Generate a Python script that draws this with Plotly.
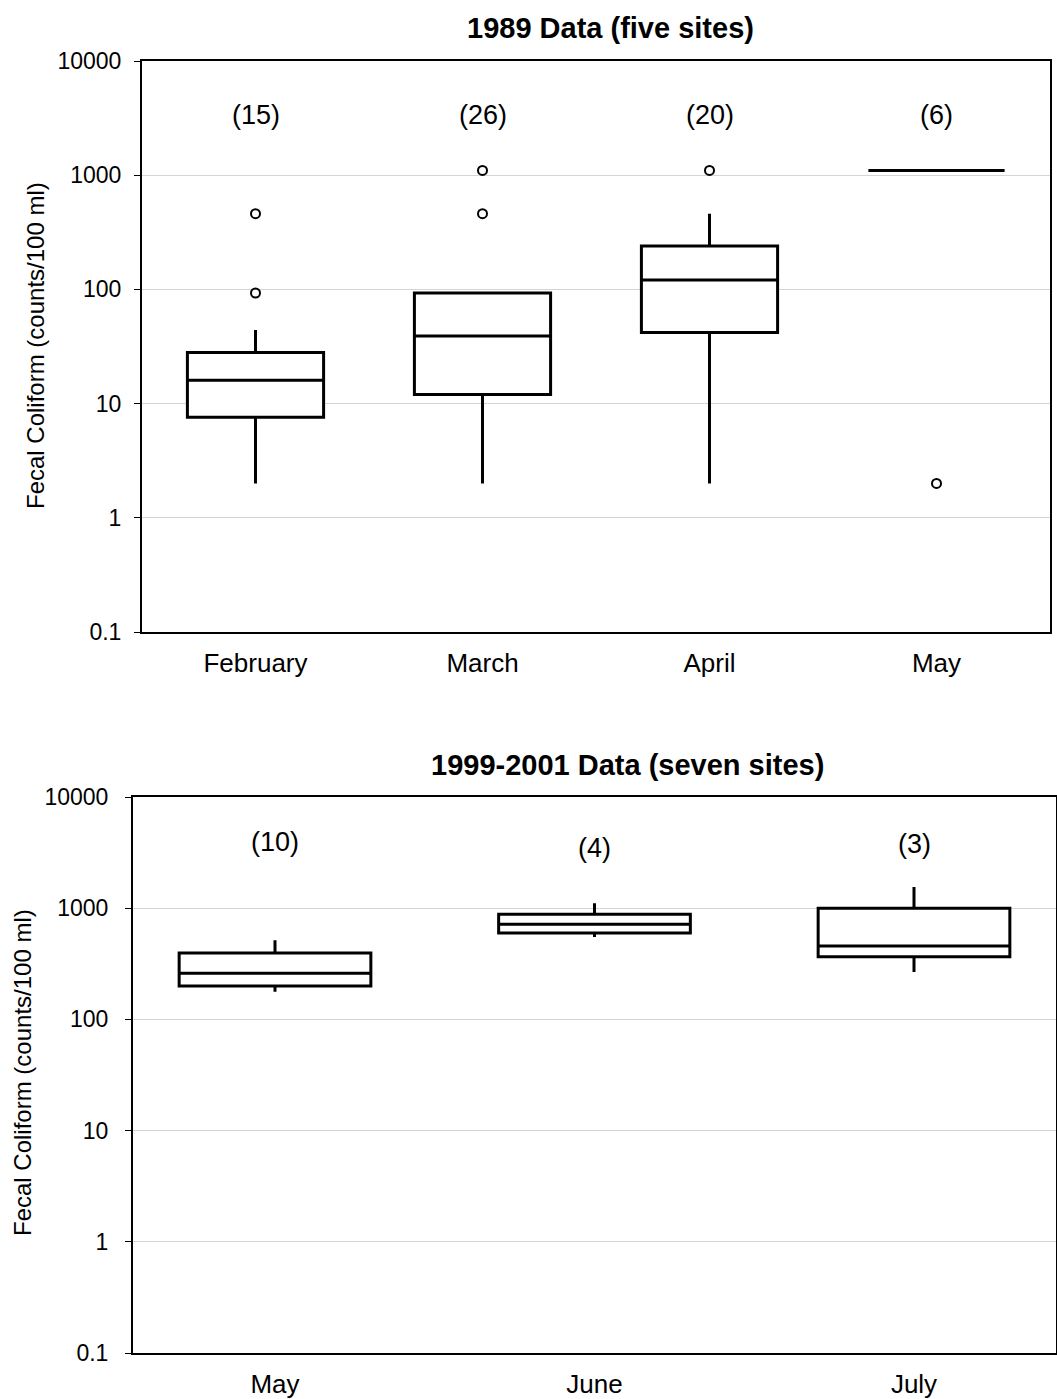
import plotly.graph_objects as go

# ---- data: 1989 (five sites) ----
cats_89 = ["February", "March", "April", "May"]
q1_89 = [7.6, 12, 42, 1100]
med_89 = [16, 39, 121, 1100]
q3_89 = [28, 93, 240, 1100]
lo_89 = [2, 2, 2, 1100]
hi_89 = [44, 93, 460, 1100]
n_89 = ["(15)", "(26)", "(20)", "(6)"]
out_x_89 = ["February", "February", "March", "March", "April", "May"]
out_y_89 = [93, 460, 460, 1100, 1100, 2]

# ---- data: 1999-2001 (seven sites) ----
cats_99 = ["May", "June", "July"]
q1_99 = [200, 597, 366]
med_99 = [260, 719, 457]
q3_99 = [395, 883, 1000]
lo_99 = [177, 550, 267]
hi_99 = [516, 1110, 1550]
n_99 = ["(10)", "(4)", "(3)"]

ytick_vals = [0.1, 1, 10, 100, 1000, 10000]
ytick_text = ["0.1", "1", "10", "100", "1000", "10000"]

FONT = "Liberation Sans, Arial, sans-serif"
W, H = 1057, 1399

fig = go.Figure()

box_style = dict(line=dict(color="black", width=3), fillcolor="white",
                 width=0.6, whiskerwidth=0, boxpoints=False, showlegend=False,
                 hoverinfo="skip")

fig.add_trace(go.Box(x=cats_89, q1=q1_89, median=med_89, q3=q3_89,
                     lowerfence=lo_89, upperfence=hi_89,
                     xaxis="x", yaxis="y", **box_style))
fig.add_trace(go.Scatter(x=out_x_89, y=out_y_89, mode="markers",
                         marker=dict(symbol="circle-open", size=9, color="black",
                                     line=dict(width=2, color="black")),
                         showlegend=False, hoverinfo="skip", xaxis="x", yaxis="y"))
fig.add_trace(go.Box(x=cats_99, q1=q1_99, median=med_99, q3=q3_99,
                     lowerfence=lo_99, upperfence=hi_99,
                     xaxis="x2", yaxis="y2", **box_style))

def px_x(v):
    return v / W

def px_y(v):
    return 1 - v / H

def yax(standoff):
    return dict(type="log", range=[-1, 4], tickvals=ytick_vals, ticktext=ytick_text,
                showgrid=True, gridcolor="#d4d4d4", gridwidth=1,
                showline=True, linecolor="black", linewidth=2, mirror=True,
                ticks="outside", ticklen=6, tickcolor="black", tickwidth=1,
                ticklabelstandoff=standoff, automargin=False,
                tickfont=dict(family=FONT, size=23, color="black"), zeroline=False)

xax = dict(type="category", showgrid=False, showline=True, linecolor="black",
           linewidth=2, mirror=True, ticks="", ticklen=0, automargin=False,
           ticklabelstandoff=7, zeroline=False,
           tickfont=dict(family=FONT, size=26, color="black"))

fig.update_layout(
    template="none",
    width=W, height=H, margin=dict(l=0, r=0, t=0, b=0, pad=0), autosize=False,
    paper_bgcolor="white", plot_bgcolor="white",
    font=dict(family=FONT, color="black"),
    xaxis=dict(domain=[px_x(142), px_x(1050)], anchor="y", categoryorder="array",
               categoryarray=cats_89, **xax),
    yaxis=dict(domain=[px_y(632), px_y(61)], anchor="x", **yax(8)),
    xaxis2=dict(domain=[px_x(133), px_x(1056)], anchor="y2", categoryorder="array",
                categoryarray=cats_99, **xax),
    yaxis2=dict(domain=[px_y(1353), px_y(797)], anchor="x2", **yax(12)),
)

mid = dict(xanchor="center", yanchor="middle", showarrow=False)
ann = []
ann.append(dict(text="<b>1989 Data (five sites)</b>", xref="paper", yref="paper",
                x=px_x(610), y=px_y(28),
                font=dict(family=FONT, size=29, color="black"), **mid))
ann.append(dict(text="<b>1999-2001 Data (seven sites)</b>", xref="paper", yref="paper",
                x=px_x(627), y=px_y(765),
                font=dict(family=FONT, size=29, color="black"), **mid))
ann.append(dict(text="Fecal Coliform (counts/100 ml)", xref="paper", yref="paper",
                x=px_x(35), y=px_y(346), textangle=-90,
                font=dict(family=FONT, size=24, color="black"), **mid))
ann.append(dict(text="Fecal Coliform (counts/100 ml)", xref="paper", yref="paper",
                x=px_x(22), y=px_y(1073), textangle=-90,
                font=dict(family=FONT, size=24, color="black"), **mid))
for c, t in zip(cats_89, n_89):
    ann.append(dict(text=t, x=c, y=3.53, xref="x", yref="y",
                    font=dict(family=FONT, size=27, color="black"), **mid))
for c, t, yy in zip(cats_99, n_99, [3.595, 3.54, 3.575]):
    ann.append(dict(text=t, x=c, y=yy, xref="x2", yref="y2",
                    font=dict(family=FONT, size=27, color="black"), **mid))
fig.update_layout(annotations=ann)

fig.write_html("out.html")
